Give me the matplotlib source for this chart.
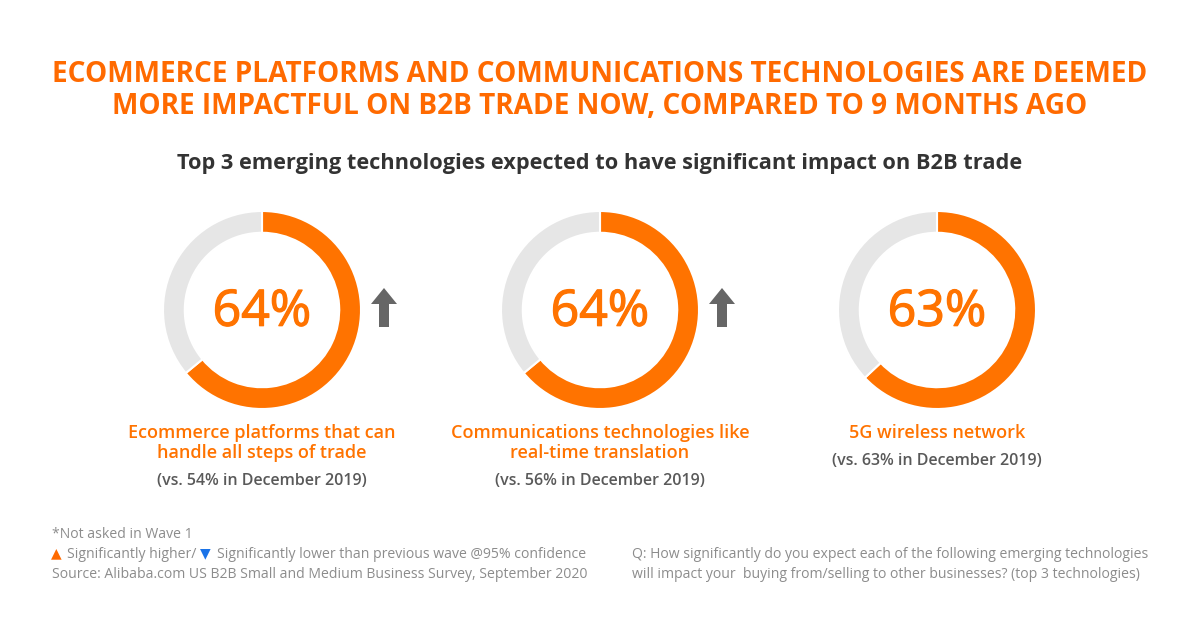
import matplotlib
matplotlib.use("Agg")
from matplotlib import pyplot as plt
from matplotlib import patheffects
from matplotlib.patches import FancyArrow

W, H = 1200, 628
ORANGE = "#FF7300"
TITLE_ORANGE = "#FF6A00"
RING_GRAY = "#E6E6E6"
DARK = "#333333"
MID_GRAY = "#595959"
LIGHT_GRAY = "#8C8C8C"

title_lines = ["ECOMMERCE PLATFORMS AND COMMUNICATIONS TECHNOLOGIES ARE DEEMED",
               "MORE IMPACTFUL ON B2B TRADE NOW, COMPARED TO 9 MONTHS AGO"]
subtitle = "Top 3 emerging technologies expected to have significant impact on B2B trade"

shares = [64, 64, 63]
labels = ["Ecommerce platforms that can\nhandle all steps of trade",
          "Communications technologies like\nreal-time translation",
          "5G wireless network"]
previous = [54, 56, 63]
sig_higher = [True, True, False]

plt.rcParams['font.family'] = ['Open Sans', 'DejaVu Sans']

fig = plt.figure(figsize=(W / 100, H / 100), dpi=100)
fig.patch.set_facecolor("white")


def fx(x):
    return x / W


def fy(y):
    return 1 - y / H


fig.text(0.5, fy(75), title_lines[0], ha="center", va="center",
         fontsize=20.2, fontweight="bold", color=TITLE_ORANGE)
fig.text(0.5, fy(107), title_lines[1], ha="center", va="center",
         fontsize=20.2, fontweight="bold", color=TITLE_ORANGE)
fig.text(0.5, fy(163), subtitle, ha="center", va="center",
         fontsize=15.7, fontweight="bold", color=DARK)

centers = [262, 600, 937]
cy = 310
outer_r = 100
ring = 22

for i, cx in enumerate(centers):
    ax = fig.add_axes([fx(cx - outer_r), fy(cy + outer_r), 2 * outer_r / W, 2 * outer_r / H])
    ax.pie([shares[i], 100 - shares[i]], colors=[ORANGE, RING_GRAY], startangle=90,
           counterclock=False, radius=1,
           wedgeprops=dict(width=ring / outer_r, edgecolor="white", linewidth=1.5))
    ax.set_xlim(-1.01, 1.01)
    ax.set_ylim(-1.01, 1.01)
    ax.axis("off")
    ax.text(0, -0.03, f"{shares[i]}%", ha="center", va="center",
            fontsize=36, color=ORANGE,
            path_effects=[patheffects.withStroke(linewidth=0.9, foreground=ORANGE)])

    lines = labels[i].split("\n")
    for j, ln in enumerate(lines):
        fig.text(fx(cx), fy(433 + 20 * j), ln, ha="center", va="center",
                 fontsize=13, fontweight="semibold", color=ORANGE)
    vy = 481 if len(lines) == 2 else 461
    fig.text(fx(cx), fy(vy), f"(vs. {previous[i]}% in December 2019)", ha="center",
             va="center", fontsize=11.5, fontweight="semibold", color=MID_GRAY)

    if sig_higher[i]:
        ax_x = cx + 122
        arr = FancyArrow(fx(ax_x), fy(327), 0, (327 - 288) / H, width=10 / W,
                         head_width=26 / W, head_length=16 / H,
                         length_includes_head=True, transform=fig.transFigure,
                         color="#666666", linewidth=0)
        fig.patches.append(arr)

foot_size = 10.1
fig.text(fx(52), fy(535), "*Not asked in Wave 1", ha="left", va="center",
         fontsize=foot_size, color=LIGHT_GRAY)
fig.text(fx(51), fy(554), "▲", ha="left", va="center", fontsize=10, color="#FF6A00")
fig.text(fx(67), fy(554), "Significantly higher/", ha="left", va="center",
         fontsize=foot_size, color=LIGHT_GRAY)
fig.text(fx(200), fy(554), "▼", ha="left", va="center", fontsize=10, color="#1A73E8")
fig.text(fx(217), fy(554), "Significantly lower than previous wave @95% confidence",
         ha="left", va="center", fontsize=foot_size, color=LIGHT_GRAY)
fig.text(fx(52), fy(574), "Source: Alibaba.com US B2B Small and Medium Business Survey, September 2020",
         ha="left", va="center", fontsize=foot_size, color=LIGHT_GRAY)

fig.text(fx(632), fy(554),
         "Q: How significantly do you expect each of the following emerging technologies",
         ha="left", va="center", fontsize=foot_size, color=LIGHT_GRAY)
fig.text(fx(632), fy(574),
         "will impact your  buying from/selling to other businesses? (top 3 technologies)",
         ha="left", va="center", fontsize=foot_size, color=LIGHT_GRAY)

fig.savefig("out.png", dpi=100, facecolor="white")
plt.close(fig)
